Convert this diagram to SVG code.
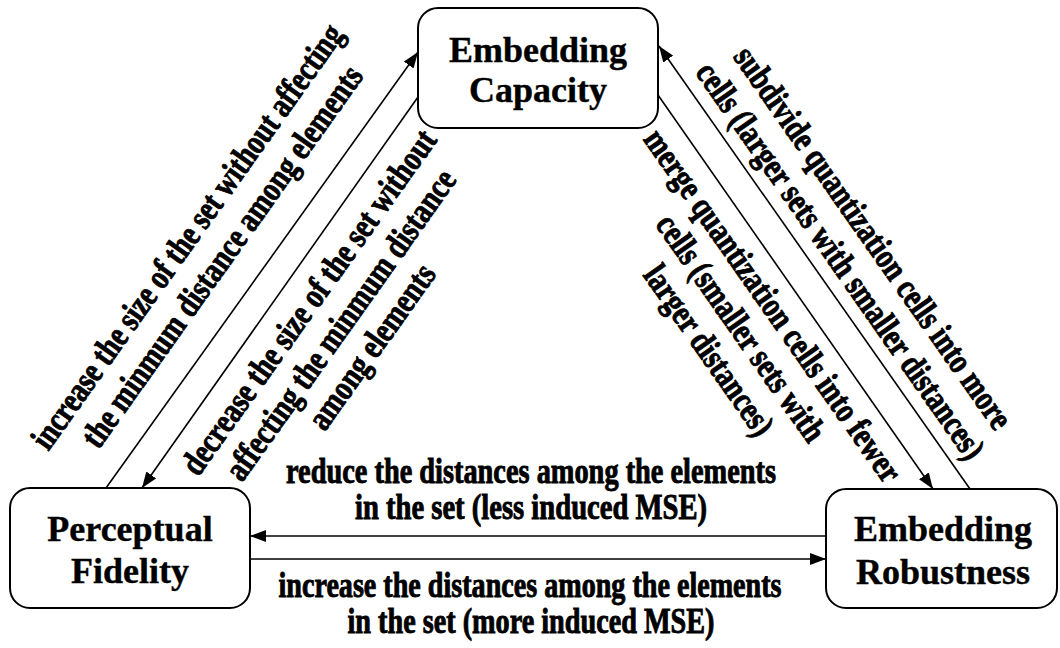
<svg xmlns="http://www.w3.org/2000/svg" width="1060" height="648" viewBox="0 0 1060 648">
  <defs>
    <marker id="arrow" markerUnits="userSpaceOnUse" markerWidth="16" markerHeight="12" refX="16" refY="6" orient="auto">
      <path d="M0,0 L16,6 L0,12 z" fill="#000"/>
    </marker>
    <style>
      .box { fill: #fff; stroke: #000; stroke-width: 2; }
      .name { font-family: "Liberation Serif", "Times New Roman", serif; font-weight: bold; font-size: 36px; text-anchor: middle; fill: #000; stroke: #000; stroke-width: 0.4; }
      .edge { stroke: #000; stroke-width: 1.6; fill: none; marker-end: url(#arrow); }
      .lbl { font-family: "Liberation Serif", "Times New Roman", serif; font-weight: bold; font-size: 35px; text-anchor: middle; fill: #000; stroke: #000; stroke-width: 0.9; }
    </style>
  </defs>
  <rect width="1060" height="648" fill="#fff"/>

  <!-- nodes -->
  <g id="embedding-capacity">
    <rect class="box" x="418" y="8" width="240" height="120" rx="20"/>
    <text class="name" x="538" y="62">Embedding</text>
    <text class="name" x="538" y="102">Capacity</text>
  </g>
  <g id="perceptual-fidelity">
    <rect class="box" x="10" y="488" width="240" height="120" rx="20"/>
    <text class="name" x="130" y="541">Perceptual</text>
    <text class="name" x="130" y="583">Fidelity</text>
  </g>
  <g id="embedding-robustness">
    <rect class="box" x="826" y="489" width="231" height="119" rx="20"/>
    <text class="name" x="943" y="541">Embedding</text>
    <text class="name" x="943" y="584">Robustness</text>
  </g>

  <!-- connectors -->
  <g id="connectors">
    <line class="edge" x1="106" y1="488" x2="418" y2="52"/>
    <line class="edge" x1="418" y1="97" x2="142" y2="488"/>
    <line class="edge" x1="970" y1="489" x2="659" y2="46"/>
    <line class="edge" x1="658" y1="95" x2="933" y2="489"/>
    <line class="edge" x1="826" y1="536" x2="250" y2="536"/>
    <line class="edge" x1="250" y1="559" x2="826" y2="559"/>
  </g>

  <!-- connector labels -->
  <g id="labels">
    <g transform="translate(106,488) rotate(-54.6)">
      <text class="lbl" x="252" y="-68" textLength="512" lengthAdjust="spacingAndGlyphs">increase the size of the set without affecting</text>
      <text class="lbl" x="256" y="-28" textLength="459" lengthAdjust="spacingAndGlyphs">the minmum distance among elements</text>
      <text class="lbl" x="269" y="69" textLength="414" lengthAdjust="spacingAndGlyphs">decrease the size of the set without</text>
      <text class="lbl" x="269" y="108" textLength="372" lengthAdjust="spacingAndGlyphs">affecting the minmum distance</text>
      <text class="lbl" x="269" y="146" textLength="194" lengthAdjust="spacingAndGlyphs">among elements</text>
    </g>
    <g transform="translate(659,46) rotate(55)">
      <text class="lbl" x="280" y="-54" textLength="458" lengthAdjust="spacingAndGlyphs">subdivide quantization cells into more</text>
      <text class="lbl" x="280" y="-14" textLength="476" lengthAdjust="spacingAndGlyphs">cells (larger sets with smaller distances)</text>
      <text class="lbl" x="278" y="67" textLength="422" lengthAdjust="spacingAndGlyphs">merge quantization cells into fewer</text>
      <text class="lbl" x="278" y="106" textLength="269" lengthAdjust="spacingAndGlyphs">cells (smaller sets with</text>
      <text class="lbl" x="278" y="145" textLength="200" lengthAdjust="spacingAndGlyphs">larger distances)</text>
    </g>
    <text class="lbl" x="531" y="483" textLength="490" lengthAdjust="spacingAndGlyphs">reduce the distances among the elements</text>
    <text class="lbl" x="531" y="519" textLength="352" lengthAdjust="spacingAndGlyphs">in the set (less induced MSE)</text>
    <text class="lbl" x="530" y="597" textLength="503" lengthAdjust="spacingAndGlyphs">increase the distances among the elements</text>
    <text class="lbl" x="531" y="633" textLength="367" lengthAdjust="spacingAndGlyphs">in the set (more induced MSE)</text>
  </g>
</svg>
